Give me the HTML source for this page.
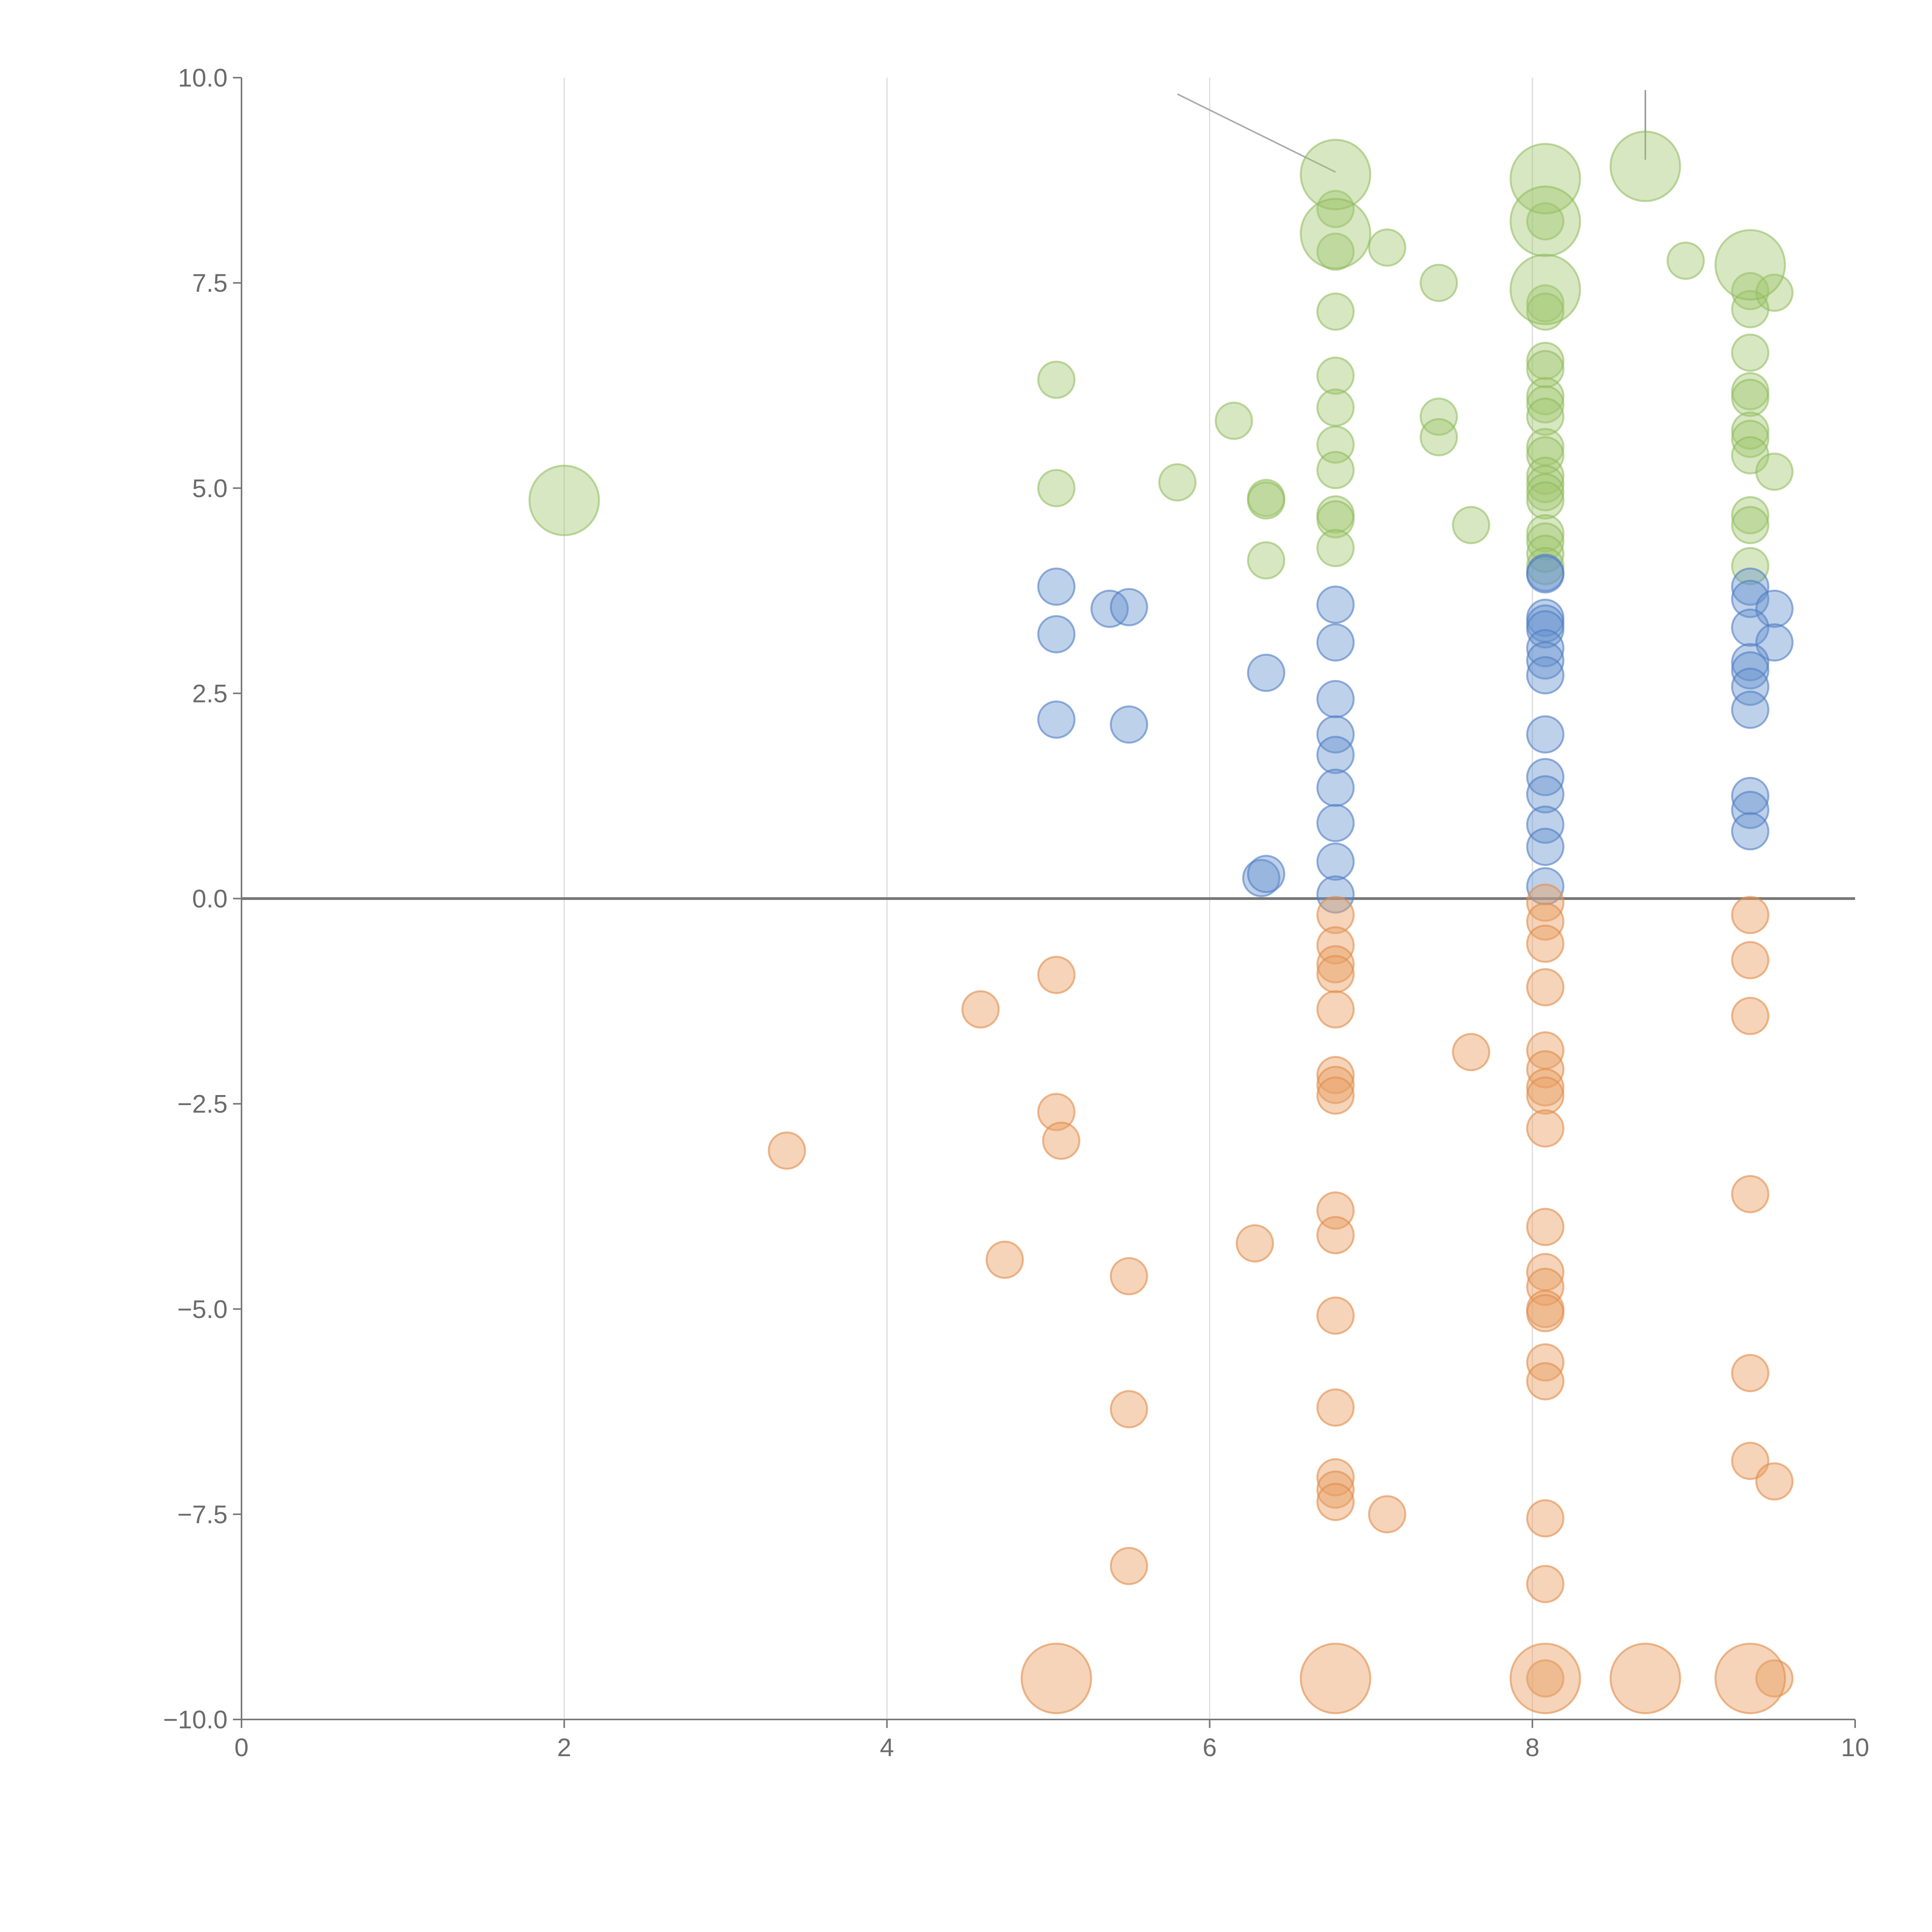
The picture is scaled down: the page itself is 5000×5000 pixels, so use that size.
<!DOCTYPE html>
<html><head><meta charset="utf-8"><style>
html,body{margin:0;padding:0;background:#fff}
svg{display:block}
text{font-family:"Liberation Sans",sans-serif;fill:#6b6b6b}
</style></head><body>
<svg id="chart" width="5000" height="5000" viewBox="0 0 5000 5000" xmlns="http://www.w3.org/2000/svg">
<g id="grid"></g>
<g id="marks"></g>
<g id="axes"></g>
</svg>
<script>
const xTicks=[0,2,4,6,8,10];
const yTicks=[10,7.5,5,2.5,0,-2.5,-5,-7.5,-10];
const greenBig=[[2.0,4.85],[6.78,8.82],[6.78,8.1],[8.08,8.77],[8.08,8.25],[8.08,7.42],[8.7,8.92],[9.35,7.72]];
const greenSmall=[[7.1,7.93],[6.78,8.4],[6.78,7.88],[6.78,7.15],[7.42,7.5],[8.08,7.25],[8.08,7.15],[8.95,7.77],[9.35,7.4],[9.5,7.38],[9.35,7.18],[5.05,6.32],[6.78,6.37],[6.78,5.98],[6.15,5.82],[7.42,5.87],[7.42,5.62],[6.78,5.53],[6.78,5.22],[5.05,5.0],[5.8,5.07],[6.35,4.88],[6.35,4.85],[6.78,4.68],[6.78,4.62],[6.78,4.27],[6.35,4.12],[7.62,4.55],[8.08,6.55],[8.08,6.45],[8.08,6.12],[8.08,6.02],[8.08,5.87],[8.08,5.5],[8.08,5.4],[8.08,5.15],[8.08,5.05],[8.08,4.95],[8.08,4.85],[8.08,4.45],[8.08,4.35],[8.08,4.2],[8.08,4.05],[8.08,8.25],[9.35,6.65],[9.35,6.18],[9.35,6.1],[9.35,5.7],[9.35,5.6],[9.35,5.4],[9.5,5.2],[9.35,4.67],[9.35,4.55],[9.35,4.05]];
const blueSmall=[[5.05,3.8],[5.05,3.22],[5.38,3.53],[5.5,3.55],[5.05,2.18],[5.5,2.12],[6.35,2.75],[6.32,0.25],[6.35,0.3],[6.78,3.58],[6.78,3.12],[6.78,2.43],[6.78,2.0],[6.78,1.75],[6.78,1.35],[6.78,0.92],[6.78,0.45],[6.78,0.05],[8.08,3.97],[8.08,3.95],[8.08,3.42],[8.08,3.35],[8.08,3.28],[8.08,3.05],[8.08,2.9],[8.08,2.72],[8.08,2.0],[8.08,1.48],[8.08,1.27],[8.08,0.9],[8.08,0.63],[8.08,0.15],[9.35,3.8],[9.35,3.65],[9.5,3.53],[9.35,3.3],[9.5,3.12],[9.35,2.88],[9.35,2.78],[9.35,2.58],[9.35,2.3],[9.35,1.25],[9.35,1.08],[9.35,0.82]];
const orangeSmall=[[5.05,-0.93],[4.58,-1.35],[3.38,-3.07],[5.05,-2.6],[5.08,-2.95],[4.73,-4.4],[5.5,-4.6],[5.5,-6.22],[5.5,-8.13],[6.28,-4.2],[6.78,-0.2],[6.78,-0.57],[6.78,-0.8],[6.78,-0.92],[6.78,-1.35],[6.78,-2.15],[6.78,-2.27],[6.78,-2.4],[6.78,-3.8],[6.78,-4.1],[6.78,-5.08],[6.78,-6.2],[6.78,-7.05],[6.78,-7.2],[6.78,-7.35],[7.1,-7.5],[7.62,-1.87],[8.08,-0.05],[8.08,-0.28],[8.08,-0.55],[8.08,-1.08],[8.08,-1.85],[8.08,-2.08],[8.08,-2.3],[8.08,-2.4],[8.08,-2.8],[8.08,-4.0],[8.08,-4.55],[8.08,-4.73],[8.08,-5.0],[8.08,-5.05],[8.08,-5.65],[8.08,-5.88],[8.08,-7.55],[8.08,-8.35],[8.08,-9.5],[9.35,-0.2],[9.35,-0.75],[9.35,-1.43],[9.35,-3.6],[9.35,-5.78],[9.35,-6.85],[9.5,-7.1],[9.5,-9.5]];
const orangeBig=[[5.05,-9.5],[6.78,-9.5],[8.08,-9.5],[8.7,-9.5],[9.35,-9.5]];

const NS="http://www.w3.org/2000/svg";
const X0=625,X1=4801,Y0=4450,Y1=201;
const sx=v=>X0+(v-0)/10*(X1-X0);
const sy=v=>Y0-(v+10)/20*(Y0-Y1);
function mk(tag,attrs,parent){const e=document.createElementNS(NS,tag);for(const k in attrs)e.setAttribute(k,attrs[k]);parent.appendChild(e);return e;}
const grid=document.getElementById('grid'),marks=document.getElementById('marks'),axes=document.getElementById('axes');
xTicks.forEach(t=>{if(t>0&&t<10){const l=mk('line',{x1:sx(t),x2:sx(t),y1:Y1,y2:Y0,stroke:'#dcdcdc','stroke-width':3},grid);

}});
const zl=mk('line',{x1:X0,x2:X1,y1:sy(0),y2:sy(0),stroke:'#777','stroke-width':7},grid);


const a1=mk('line',{x1:sx(5.8),y1:sy(9.8),x2:sx(6.78),y2:sy(8.85),stroke:'#aaa','stroke-width':4},grid);


const a2=mk('line',{x1:sx(8.7),y1:sy(9.85),x2:sx(8.7),y2:sy(9.0),stroke:'#999','stroke-width':4},grid);


function draw(arr,r,fill,stroke,name){arr.forEach(p=>{const c=mk('circle',{cx:sx(p[0]),cy:sy(p[1]),r:r,fill:fill,stroke:stroke,'stroke-width':5},marks);

});}
draw(greenSmall,47,'rgba(160,198,110,0.42)','rgba(140,185,90,0.55)','green-bubble');
draw(greenBig,90,'rgba(160,198,110,0.42)','rgba(140,185,90,0.55)','green-bubble-large');
draw(blueSmall,47,'rgba(100,145,205,0.42)','rgba(80,125,195,0.6)','blue-bubble');
draw(orangeSmall,47,'rgba(232,160,100,0.45)','rgba(225,140,75,0.6)','orange-bubble');
draw(orangeBig,90,'rgba(232,160,100,0.45)','rgba(225,140,75,0.6)','orange-bubble-large');
const ya=mk('line',{x1:X0,x2:X0,y1:Y1,y2:Y0,stroke:'#777','stroke-width':4},axes);


const xa=mk('line',{x1:X0,x2:X1,y1:Y0,y2:Y0,stroke:'#777','stroke-width':4},axes);


yTicks.forEach(t=>{mk('line',{x1:X0-22,x2:X0,y1:sy(t),y2:sy(t),stroke:'#777','stroke-width':4},axes);
const tx=mk('text',{x:X0-36,y:sy(t)+23,'text-anchor':'end','font-size':66},axes);
tx.textContent=(t<0?'\u2212':'')+Math.abs(t).toFixed(1);

});
xTicks.forEach(t=>{mk('line',{x1:sx(t),x2:sx(t),y1:Y0,y2:Y0+22,stroke:'#777','stroke-width':4},axes);
const tx=mk('text',{x:sx(t),y:Y0+95,'text-anchor':'middle','font-size':66},axes);
tx.textContent=String(t);

});
</script>
</body></html>
